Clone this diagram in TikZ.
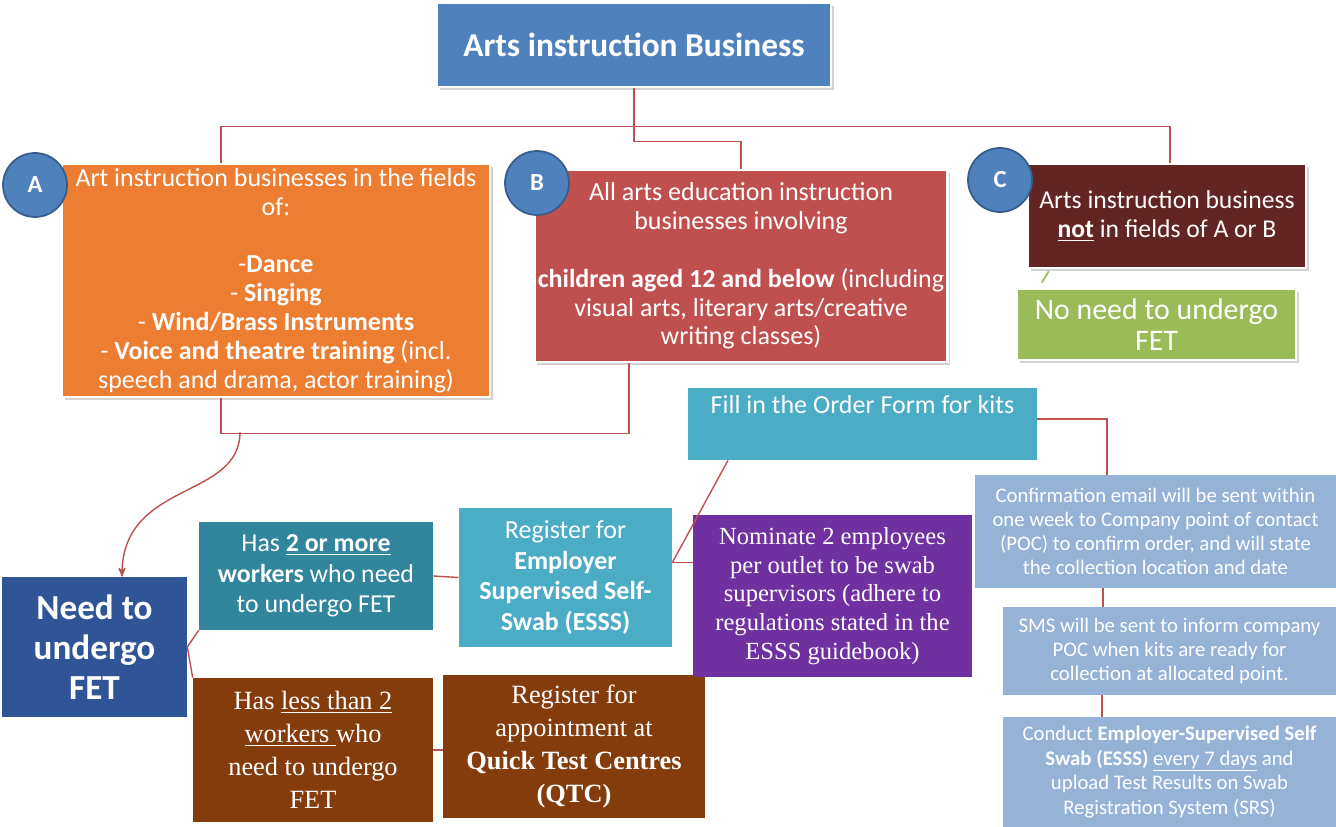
\documentclass[tikz,border=0pt]{standalone}
\usepackage{fontspec}
\setmainfont{Carlito}
\newfontfamily\tnrfont{Liberation Serif}
\usepackage{tikz}
\usetikzlibrary{positioning, arrows, shadows}
\definecolor{topblue}{HTML}{4F81BD}
\definecolor{ringblue}{HTML}{385D8A}
\definecolor{fieldA}{HTML}{ED7D31}
\definecolor{fieldB}{HTML}{C0504D}
\definecolor{fieldC}{HTML}{632523}
\definecolor{nofet}{HTML}{9BBB59}
\definecolor{needblue}{HTML}{2F5597}
\definecolor{manyteal}{HTML}{31859C}
\definecolor{essscyan}{HTML}{4BACC6}
\definecolor{fewbrown}{HTML}{843C0C}
\definecolor{nompurple}{HTML}{7030A0}
\definecolor{steplight}{HTML}{95B3D7}
\tikzset{
>=stealth', % arrow heads as in the reference
box/.style={rectangle, inner sep=2pt, align=center, text=white}, % every coloured box
smart/.style={box, draw=white, line width=1.5pt, drop shadow={opacity=0.35, shadow xshift=1.5pt, shadow yshift=-1.5pt}}, % boxes with frame and shadow
badge/.style={circle, fill=topblue, draw=ringblue, line width=1pt, minimum size=1.28cm, text=white, font=\bfseries\fontsize{14}{14}\selectfont}, % the A, B, C markers
link/.style={draw=fieldB, line width=0.8pt}, % red connectors
}

\begin{document}
\begin{tikzpicture}[x=0.02cm, y=-0.02cm]
    \useasboundingbox (0,0) rectangle (1336,827);

    % top level
    \node[smart, fill=topblue, minimum width=7.88cm, minimum height=1.68cm, font=\bfseries\fontsize{19}{22}\selectfont] (top) at (634,45) {Arts instruction Business};

    % the three fields
    \node[smart, fill=fieldA, minimum width=8.56cm, minimum height=4.66cm, font=\fontsize{14.8}{16.4}\selectfont] (A) at (276,280.5)
        {Art instruction businesses in the fields\\ of:\\[16.4pt] -\textbf{Dance}\\ - \textbf{Singing}\\ - \textbf{Wind/Brass Instruments}\\ - \textbf{Voice and theatre training} (incl.\\ speech and drama, actor training)};
    \node[smart, fill=fieldB, minimum width=8.16cm, minimum height=3.84cm, font=\fontsize{14.8}{16.4}\selectfont] (B) at (741,266)
        {All arts education instruction\\ businesses involving\\[16.4pt] \textbf{children aged 12 and below} (including\\ visual arts, literary arts/creative\\ writing classes)};
    \node[smart, fill=fieldC, minimum width=5.56cm, minimum height=2.08cm, font=\fontsize{14.6}{16.4}\selectfont] (C) at (1167,216)
        {Arts instruction business\\ \underline{\textbf{not}} in fields of A or B};
    \node[smart, fill=nofet, minimum width=5.58cm, minimum height=1.42cm, font=\fontsize{17}{18}\selectfont] (noFET) at (1156.5,324.5)
        {No need to undergo\\ FET};

    \node[badge] (badgeA) at (35,185) {A};
    \node[badge] (badgeB) at (537,183) {B};
    \node[badge] (badgeC) at (1000,180) {C};

    % lower part
    \node[box, fill=needblue, minimum width=3.7cm, minimum height=2.8cm, font=\bfseries\fontsize{20}{22.7}\selectfont] (Need) at (94.5,647)
        {Need to\\ undergo\\ FET};
    \node[box, fill=manyteal, minimum width=4.68cm, minimum height=2.16cm, font=\fontsize{14.7}{17.5}\selectfont] (many) at (316,576)
        {Has \underline{\textbf{2 or more}}\\ \textbf{workers} who need\\ to undergo FET};
    \node[box, fill=fewbrown, minimum width=4.8cm, minimum height=2.88cm, font=\tnrfont\fontsize{15}{18.7}\selectfont] (few) at (313,750)
        {Has \underline{less than 2}\\ \underline{workers }who\\ need to undergo\\ FET};
    \node[box, fill=essscyan, minimum width=4.26cm, minimum height=2.78cm, font=\fontsize{14.8}{17.6}\selectfont] (esss) at (565.5,577.5)
        {Register for\\ \textbf{Employer}\\ \textbf{Supervised Self-}\\ \textbf{Swab (ESSS)}};
    \node[box, fill=fewbrown, minimum width=5.24cm, minimum height=2.86cm, font=\tnrfont\fontsize{15}{18.7}\selectfont] (qtc) at (574,746.5)
        {Register for\\ appointment at\\ \textbf{Quick Test Centres}\\ \textbf{(QTC)}};
    \node[box, fill=nompurple, minimum width=5.58cm, minimum height=3.24cm, font=\tnrfont\fontsize{14}{16.4}\selectfont] (nominate) at (832.5,596)
        {Nominate 2 employees\\ per outlet to be swab\\ supervisors (adhere to\\ regulations stated in the\\ ESSS guidebook)};
    \node[box, fill=essscyan, minimum width=6.98cm, inner ysep=0pt, text height=0.5cm, text depth=0.94cm, font=\fontsize{14.8}{16}\selectfont] (order) at (862.5,424)
        {Fill in the Order Form for kits};
    \node[box, fill=steplight, minimum width=7.22cm, minimum height=2.26cm, font=\fontsize{11.8}{13.6}\selectfont] (confirm) at (1155.5,531.5)
        {Confirmation email will be sent within\\ one week to Company point of contact\\ (POC) to confirm order, and will state\\ the collection location and date};
    \node[box, fill=steplight, minimum width=6.66cm, minimum height=1.76cm, font=\fontsize{11.8}{13.6}\selectfont] (sms) at (1169.5,651)
        {SMS will be sent to inform company\\ POC when kits are ready for\\ collection at allocated point.};
    \node[box, fill=steplight, minimum width=6.66cm, minimum height=2.2cm, font=\fontsize{11.8}{14.2}\selectfont] (conduct) at (1169.5,772)
        {Conduct \textbf{Employer-Supervised Self}\\ \textbf{Swab (ESSS)} \underline{every 7 days} and\\ upload Test Results on Swab\\ Registration System (SRS)};

    % connectors
    \draw[link] (A.north -| 221,0) -- ++(0,-36) -| (C.north -| 1170,0);
    \draw[link] (top.south) -- ++(0,53) -| (B.north);
    \draw[link] (A.south -| 221,0) -- ++(0,35) -| (B.south -| 629,0);
    \coordinate (split) at (240,432);
    \draw[link, ->] (split) .. controls (240,500) and (122,480) .. (Need.north -| 122,0);
    \draw[draw=nofet, line width=1pt] ([shift={(22,2)}]C.south west) -- ([shift={(26,-5)}]noFET.north west);

    \draw[link] (Need.east) -- (many.south west);
    \draw[link] (Need.east) -- (few.north west);
    \draw[link] (many.east) -- (esss.west);
    \draw[link] (few.east) -- (few.east -| qtc.west);
    \draw[link] (esss.east) ++(0,-15) coordinate (fork) -- (fork -| nominate.west);
    \draw[link] (fork) -- (order.south -| 728,0);
    \draw[link] (order.east) ++(0,-5) -| (confirm.north -| 1107,0);
    \draw[link] (confirm.south -| 1103,0) -- (sms.north -| 1103,0);
    \draw[link] (sms.south -| 1102,0) -- (conduct.north -| 1102,0);
\end{tikzpicture}
\end{document}
